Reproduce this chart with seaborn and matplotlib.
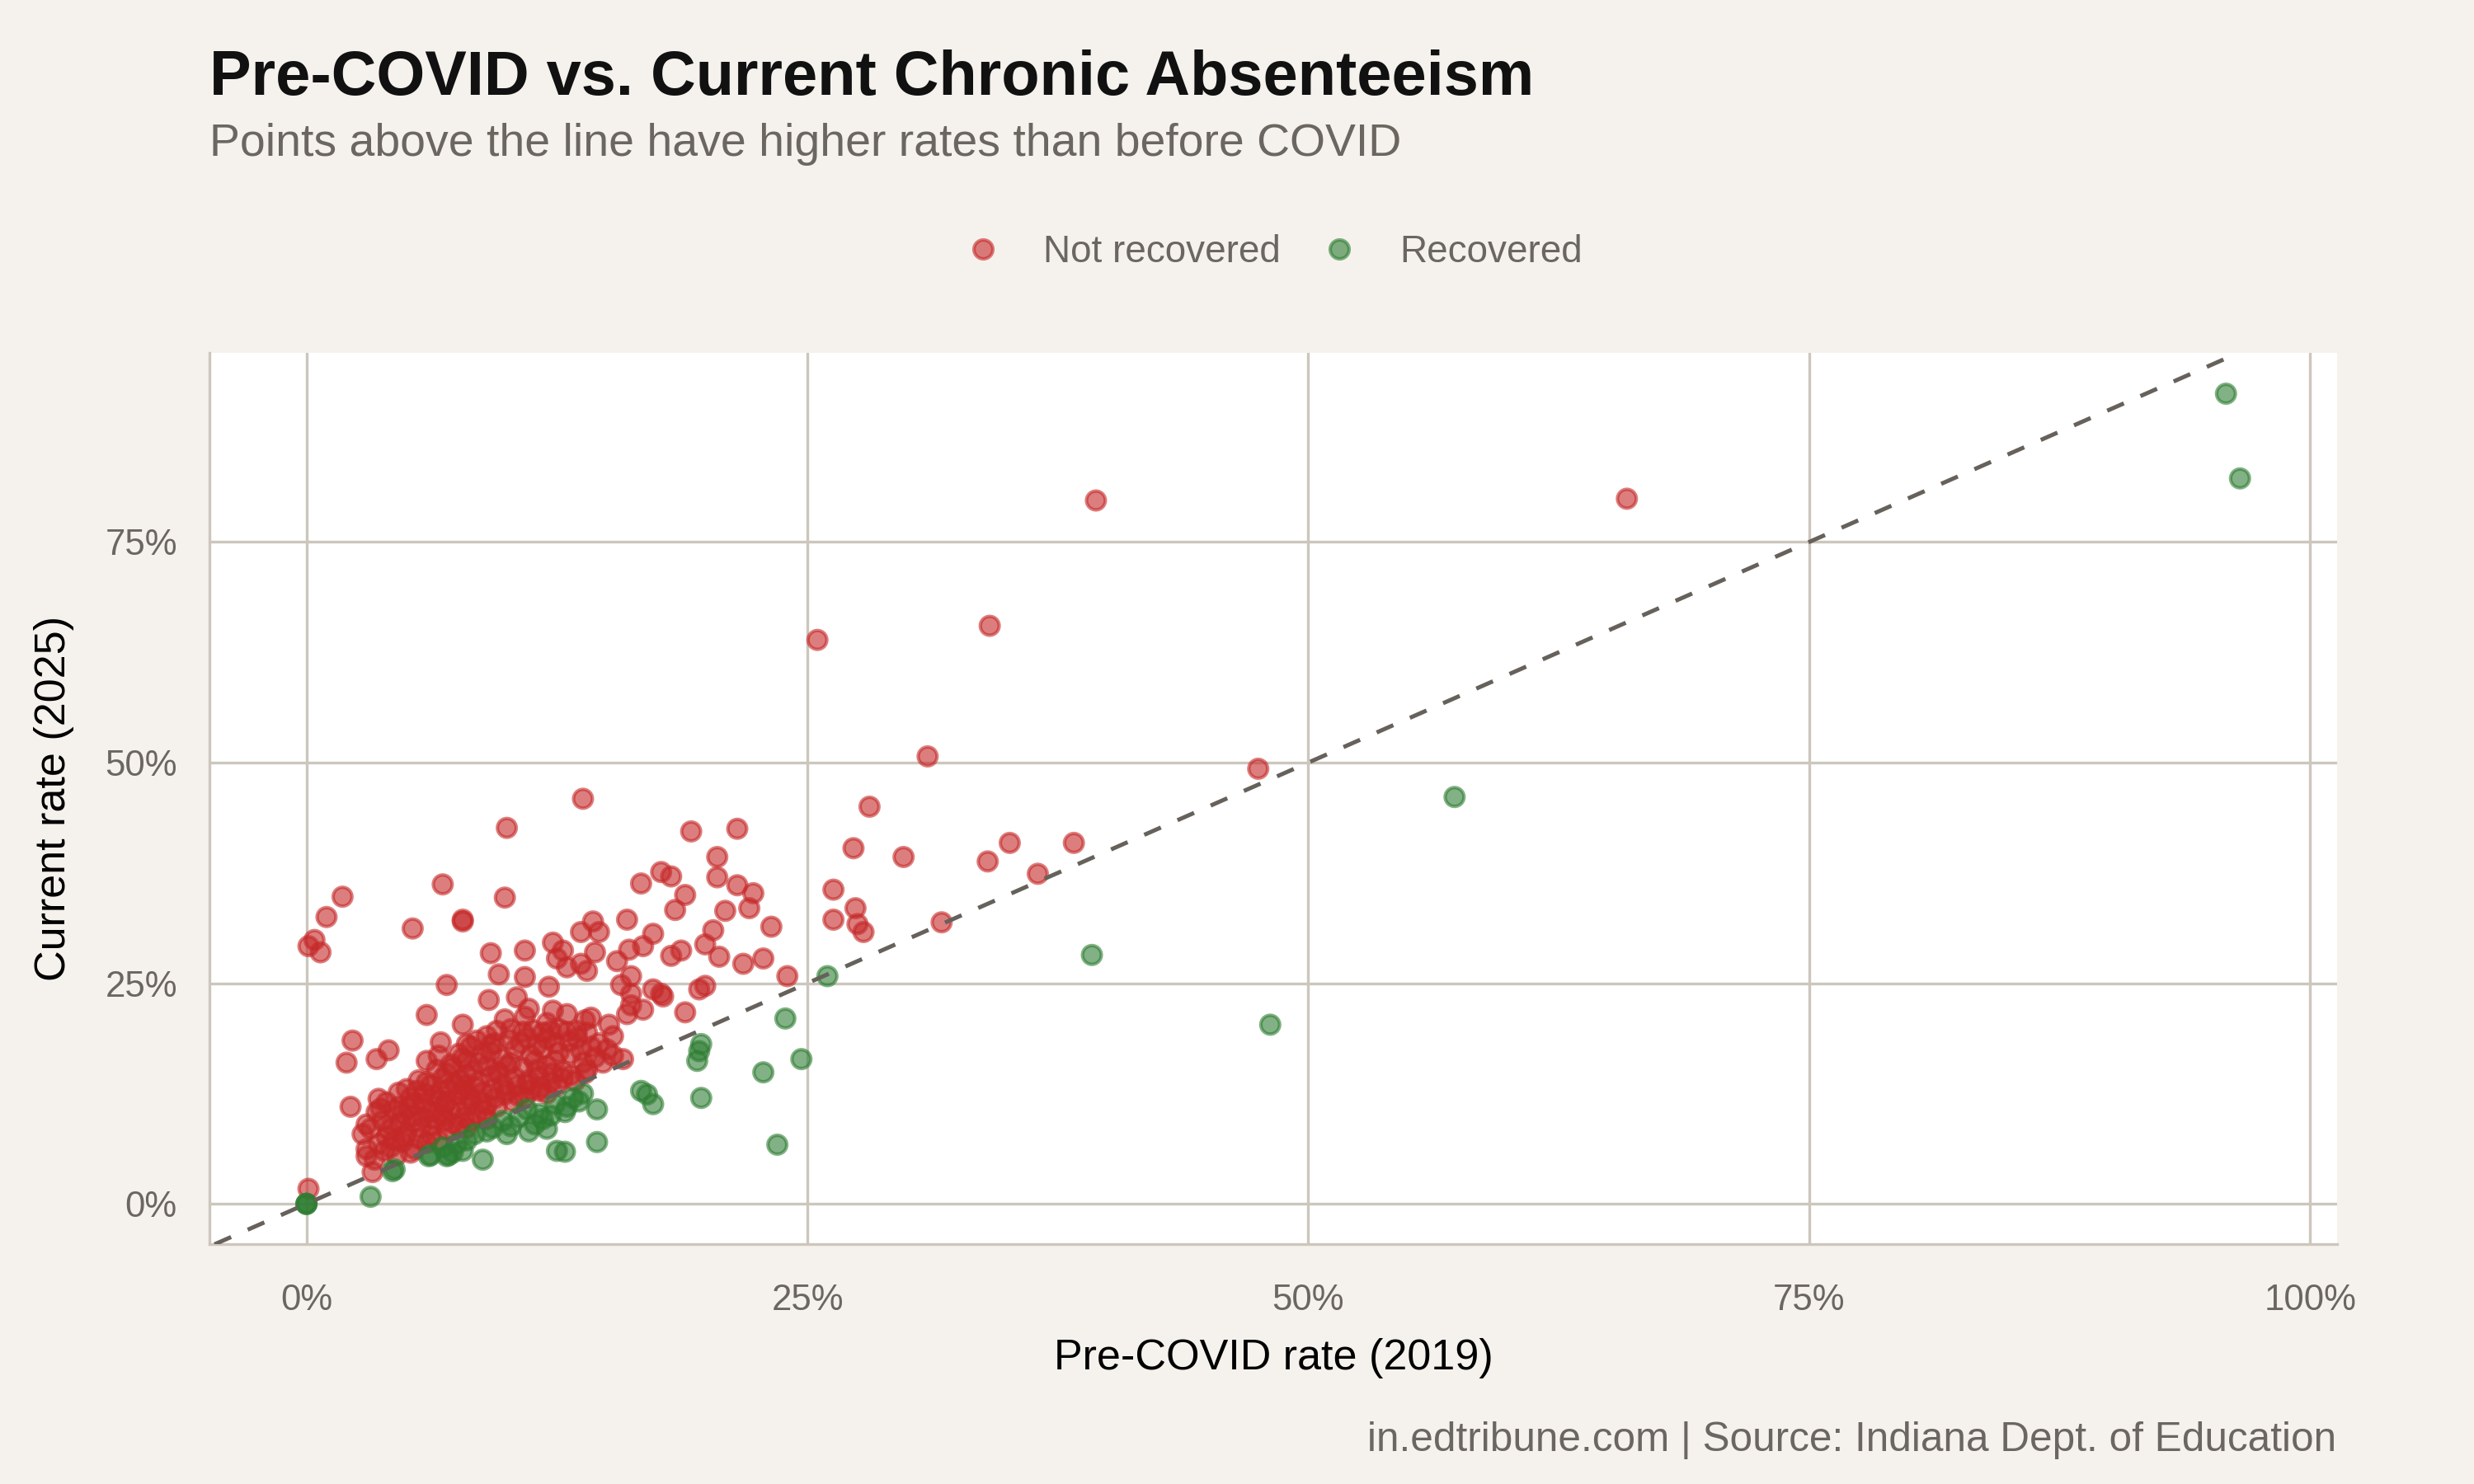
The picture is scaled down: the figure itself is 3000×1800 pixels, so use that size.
import pandas as pd
import numpy as np
import seaborn as sns
import matplotlib.pyplot as plt
from matplotlib.lines import Line2D
from matplotlib.ticker import PercentFormatter

# Values (percent)
red_x = [39.4, 65.9, 25.5, 34.1, 31.0, 47.5, 28.1, 13.8, 10.0, 19.2, 21.5, 27.3, 29.8, 34.0, 35.1,
         38.3, 36.5, 20.5, 20.5, 21.5, 22.3, 22.1, 20.9, 23.2, 26.3, 26.3, 27.4, 27.5, 27.8, 31.7,
         21.8, 22.8, 24.0, 19.6, 19.9, 20.6, 19.9, 20.3, 18.9, 18.4, 18.2, 17.7, 16.7, 16.0, 14.3,
         14.6, 13.7, 17.3, 16.8, 16.1, 15.5, 18.2, 18.7, 14.4, 13.7, 14.0, 16.2, 15.7, 16.2, 17.3,
         17.7, 18.9, 16.8, 16.0, 16.2, 14.2, 15.8, 15.3,
         6.8, 9.9, 1.8, 1.0, 0.4, 0.1, 0.7, 5.3, 7.8, 7.8, 9.2, 10.9, 9.6, 10.9, 12.1, 12.3, 12.8,
         12.5, 13.0, 7.0, 9.1, 10.5, 11.1, 10.9, 6.0, 7.8, 9.9, 12.3, 13.9, 15.1, 17.8, 12.0, 13.0,
         0.1, 2.3, 2.0, 3.5, 4.1, 2.2, 3.7, 3.0, 2.8, 3.0, 3.3, 6.7, 9.2, 8.0,
         # dense cluster
         9.5, 10.2, 10.8, 11.3, 11.8, 12.2, 12.6, 13.0, 13.5, 14.0, 11.0, 12.0, 9.0, 8.5, 7.6, 8.2,
         14.6, 15.0,
         6.0, 6.6, 7.2, 7.8, 8.6, 9.2, 9.8, 10.4, 11.2, 11.8, 12.4, 13.2, 13.8, 14.4, 10.0, 11.5,
         12.8, 14.0, 15.3, 7.0,
         5.0, 5.6, 6.2, 6.8, 7.4, 8.0, 8.6, 9.2, 9.8, 10.4, 11.0, 11.6, 12.2, 12.8, 13.4, 8.3, 9.5,
         6.5, 4.6, 7.8,
         4.0, 4.6, 5.2, 5.8, 6.4, 7.0, 7.6, 8.2, 8.8, 9.4, 10.0, 10.6, 11.2, 12.0, 6.0, 7.2, 8.0,
         9.0, 5.5, 3.6,
         3.2, 3.8, 4.3, 4.8, 5.3, 5.8, 6.3, 6.8, 7.3, 7.9, 8.5, 9.0, 5.0, 4.0, 5.6, 6.2, 7.0, 3.5,
         4.4, 8.0,
         3.0, 3.6, 4.2, 4.8, 5.4, 6.0, 4.5, 5.2, 3.4, 6.6,
         6.3, 6.9, 7.5, 8.1, 8.7, 9.3, 9.9, 10.5, 11.1, 11.7, 12.3, 7.1, 7.7, 8.4, 9.0, 9.6, 10.2,
         10.8, 11.4, 12.0, 12.6, 13.1, 13.7, 6.4, 5.9, 5.1, 4.7, 5.4, 6.0, 6.7, 7.3, 8.0, 8.8, 9.4,
         10.1, 10.7, 11.5, 12.4, 13.5, 14.2, 8.2, 8.9, 9.5, 10.3, 10.9, 11.6, 12.5, 13.2, 13.9,
         14.8, 7.6, 6.9, 5.7, 4.9, 4.1, 3.9, 4.4, 5.3, 6.6, 7.9]
red_y = [79.7, 79.9, 63.9, 65.5, 50.7, 49.3, 45.0, 45.9, 42.6, 42.2, 42.5, 40.3, 39.3, 38.8, 40.9,
         40.9, 37.4, 39.3, 37.0, 36.1, 35.2, 33.5, 33.2, 31.4, 35.6, 32.2, 33.5, 31.7, 30.8, 31.9,
         27.2, 27.8, 25.8, 24.3, 24.7, 28.0, 29.4, 31.0, 35.0, 33.3, 37.1, 37.6, 36.3, 32.2, 32.0,
         30.8, 30.8, 30.6, 29.2, 28.8, 27.5, 28.1, 28.7, 28.5, 27.2, 26.4, 25.8, 24.8, 23.8, 24.3,
         23.8, 21.7, 22.0, 21.5, 22.5, 21.1, 16.4, 19.0,
         36.2, 34.7, 34.8, 32.5, 29.9, 29.2, 28.5, 31.2, 32.0, 32.2, 28.4, 28.7, 26.0, 25.7, 24.6,
         29.6, 28.7, 27.8, 26.8, 24.8, 23.1, 23.4, 22.1, 21.2, 21.4, 20.3, 20.9, 21.9, 20.8, 20.3,
         23.5, 20.5, 21.5,
         1.7, 18.5, 16.0, 16.4, 17.4, 11.0, 10.8, 9.0, 7.9, 5.4, 3.6, 18.3, 18.0, 18.1,
         19.6, 19.8, 19.5, 19.7, 19.4, 19.6, 19.8, 19.5, 19.6, 19.4, 18.8, 18.7, 19.0, 18.5, 17.0,
         17.8, 18.2, 17.5,
         16.2, 16.8, 15.8, 16.5, 16.0, 17.2, 16.4, 17.5, 16.8, 17.6, 16.2, 17.0, 16.0, 16.6, 15.6,
         15.2, 15.0, 15.2, 16.8, 14.8,
         13.0, 14.0, 13.4, 14.2, 13.6, 14.6, 13.8, 14.4, 13.5, 14.3, 13.6, 14.4, 13.8, 14.2, 13.9,
         15.1, 15.0, 15.2, 12.6, 12.9,
         11.5, 11.0, 12.0, 11.4, 12.2, 11.6, 12.4, 11.8, 12.6, 12.0, 12.8, 12.2, 12.9, 12.5, 10.8,
         10.6, 11.0, 11.2, 12.8, 11.9,
         8.5, 9.4, 8.8, 10.2, 9.2, 9.8, 8.9, 10.0, 9.1, 9.8, 10.2, 9.6, 8.0, 7.6, 7.4, 7.8, 8.4,
         10.4, 10.6, 8.6,
         6.2, 6.8, 6.4, 7.0, 6.2, 6.9, 5.5, 5.8, 5.0, 7.2,
         10.4, 11.2, 10.9, 12.2, 11.5, 13.0, 12.4, 13.4, 14.0, 13.2, 14.8, 13.0, 14.0, 13.2, 15.6,
         14.8, 16.0, 15.4, 16.2, 15.6, 17.2, 18.4, 17.4, 9.6, 12.5, 10.8, 9.2, 11.4, 13.8, 12.8,
         15.4, 16.2, 17.0, 18.2, 18.6, 18.2, 18.0, 18.2, 18.8, 17.8, 9.4, 10.6, 11.0, 11.6, 12.0,
         12.8, 13.4, 14.6, 14.8, 16.0, 8.8, 9.4, 8.6, 7.6, 8.4, 6.0, 7.2, 9.9, 11.8, 13.4]

green_x = [95.8, 96.5, 57.3, 39.2, 48.1, 26.0, 23.9, 24.7, 22.8, 23.5, 19.7, 19.6, 19.5, 19.7,
           16.7, 17.0, 17.3, 14.5, 14.5,
           0.0, 0.0, 0.0, 4.3, 4.4, 3.2, 6.1, 7.0, 7.3, 7.8, 8.4, 8.8, 9.8, 10.0, 9.3, 9.0, 11.1,
           11.4, 12.0, 12.5, 12.9, 11.0, 12.4, 13.3, 12.9, 13.6, 12.2, 11.8, 10.6, 10.2, 8.0, 7.5,
           6.8, 13.0, 13.8, 11.6, 6.2, 7.1]
green_y = [91.8, 82.2, 46.1, 28.2, 20.3, 25.8, 21.0, 16.4, 14.9, 6.7, 18.1, 17.3, 16.2, 12.0,
           12.8, 12.4, 11.3, 10.7, 7.0,
           0.0, 0.0, 0.0, 3.7, 3.9, 0.8, 5.4, 5.4, 5.8, 6.0, 7.9, 5.0, 9.4, 7.9, 8.6, 8.2, 8.2,
           9.0, 8.5, 6.0, 5.9, 10.7, 11.3, 12.0, 10.4, 11.6, 10.0, 9.6, 9.8, 8.8, 7.2, 6.8,
           6.4, 11.0, 12.5, 10.2, 5.5, 5.5]

status_labels = ["Not recovered", "Recovered"]
colors = {"Not recovered": "#C62828", "Recovered": "#2E7D32"}

data = pd.DataFrame({
    "pre": red_x + green_x,
    "current": red_y + green_y,
    "status": [status_labels[0]] * len(red_x) + [status_labels[1]] * len(green_x),
})

sns.set_theme(style="white")
plt.rcParams["font.family"] = ["Liberation Sans", "DejaVu Sans"]

bg = "#F5F2ED"
grid_c = "#CCC6BC"
grey_txt = "#6B6660"

fig = plt.figure(figsize=(10, 6), dpi=300, facecolor=bg)
ax = fig.add_axes([0.0848, 0.1615, 0.8597, 0.6005])
ax.set_facecolor("white")

sns.scatterplot(data=data, x="pre", y="current", hue="status", palette=colors,
                hue_order=status_labels, s=30, alpha=0.6, linewidth=1.0,
                legend=False, ax=ax, zorder=3)
for coll in ax.collections:
    coll.set_edgecolor(coll.get_facecolor())

# 5% expansion like ggplot
xmax = data["pre"].max()
ymax = data["current"].max()
ax.set_xlim(-0.05 * xmax, xmax * 1.05)
ax.set_ylim(-0.05 * ymax, ymax * 1.05)

ax.axline((0, 0), slope=1, color="#66615B", lw=1.2, linestyle=(0, (4.4, 4.4)), zorder=4)

ax.set_xticks([0, 25, 50, 75, 100])
ax.set_yticks([0, 25, 50, 75])
ax.xaxis.set_major_formatter(PercentFormatter(100, decimals=0))
ax.yaxis.set_major_formatter(PercentFormatter(100, decimals=0))
ax.grid(True, color=grid_c, lw=0.8, zorder=0)
ax.set_axisbelow(True)
ax.tick_params(axis="both", length=3.5, width=0.8, color=grid_c, labelsize=10.5,
               labelcolor=grey_txt)
ax.tick_params(axis="x", pad=8)
ax.tick_params(axis="y", pad=6)
for side in ["top", "right"]:
    ax.spines[side].set_visible(False)
for side in ["left", "bottom"]:
    ax.spines[side].set_color(grid_c)
    ax.spines[side].set_linewidth(0.8)

ax.set_xlabel("Pre-COVID rate (2019)", fontsize=12.5, color="black", labelpad=6)
ax.set_ylabel("Current rate (2025)", fontsize=12.5, color="black", labelpad=9)

fig.text(0.0848, 0.936, "Pre-COVID vs. Current Chronic Absenteeism", fontsize=18.2,
         fontweight="bold", color="#111111", ha="left", va="baseline")
fig.text(0.0848, 0.895, "Points above the line have higher rates than before COVID",
         fontsize=13.3, color=grey_txt, ha="left", va="baseline")
fig.text(0.9445, 0.022, "in.edtribune.com | Source: Indiana Dept. of Education",
         fontsize=11.9, color=grey_txt, ha="right", va="baseline")

handles = [Line2D([], [], marker="o", linestyle="", markersize=5.5, alpha=0.6,
                  markerfacecolor=colors[k], markeredgecolor=colors[k],
                  markeredgewidth=1.0, label=k) for k in status_labels]
leg = fig.legend(handles=handles, loc="center", bbox_to_anchor=(0.5147, 0.830), ncol=2,
                 frameon=False, fontsize=11, handletextpad=1.1, columnspacing=1.05,
                 handlelength=1.0)
for t in leg.get_texts():
    t.set_color(grey_txt)

fig.savefig("out.png", dpi=300, facecolor=bg)
